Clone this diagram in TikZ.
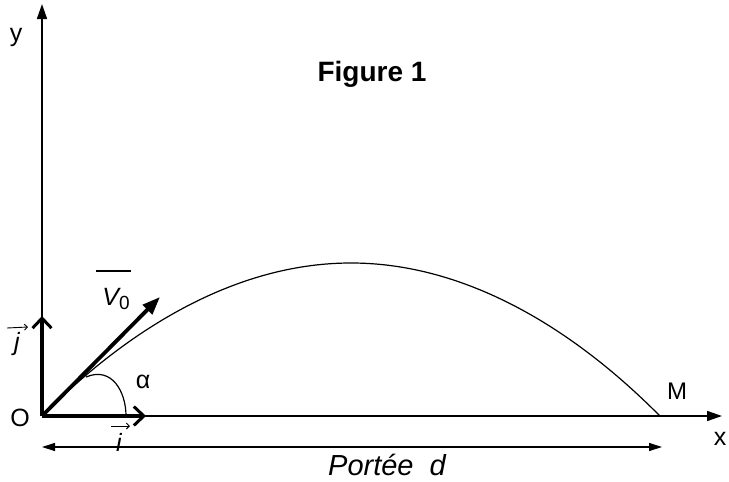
\documentclass[tikz,border=0pt]{standalone}
\usepackage{fontspec}
\setmainfont{Liberation Sans}
\usetikzlibrary{arrows.meta}
\begin{document}
\begin{tikzpicture}[x=1pt,y=-1pt,
  axis/.style={line width=1.6pt,-{Triangle[length=15pt,width=10pt]}},
  unitvec/.style={line width=3.8pt,-{Straight Barb[length=10pt,width=19pt,line width=3pt]}},
  velvec/.style={line width=3.8pt,-{Triangle[length=18pt,width=13pt]}},
  lbl/.style={font=\fontsize{25}{28}\selectfont},
  ilbl/.style={font=\itshape\fontsize{25}{28}\selectfont},
  smallarrow/.style={line width=0.9pt,-{Straight Barb[length=3pt,width=6pt]}},
  dim/.style={line width=1.2pt,{Triangle[length=13pt,width=8pt]}-{Triangle[length=13pt,width=8pt]}}]
\useasboundingbox (0,0) rectangle (729,482);
\coordinate (O) at (42,416);
\coordinate (Ytop) at (42,4);
\coordinate (Xend) at (722,416);
\coordinate (J) at (42,316);
\coordinate (I) at (146,416);
\coordinate (V) at (160,297);
\coordinate (M) at (660,416);
\coordinate (Top) at (351,263);
% axes
\draw[axis] (O) -- (Ytop);
\draw[axis] (O) -- (Xend);
% trajectory (parabola)
\draw[line width=1.2pt] (O) parabola bend (Top) (M);
% unit vectors
\draw[unitvec] (O) -- (J);
\draw[unitvec] (O) -- (I);
\draw[velvec] (O) -- (V);
% angle arc
\draw[line width=1.2pt] (86,377) .. controls (112,366) and (126,392) .. (126,416);
% range arrow
\coordinate (D1) at (42,447);
\coordinate (D2) at (662,447);
\draw[dim] (D1) -- (D2);
% labels
\node[font=\bfseries\fontsize{28}{32}\selectfont] (fig) at (372,74) {Figure 1};
\node[lbl] (ylab) at (16,37) {y};
\node[lbl] (xlab) at (720,439) {x};
\node[lbl] (olab) at (20,418) {O};
\node[font=\fontsize{24}{27}\selectfont] (mlab) at (677,391) {M};
\node[lbl] (alab) at (143,382) {α};
\node[ilbl] (vlab) at (116,299) {V\raisebox{-0.35ex}{\fontsize{19}{21}\selectfont\upshape 0}};
\draw[line width=1.2pt] (96,271) -- (131,271);
\node[ilbl] (jlab) at (17,344) {j};
\draw[smallarrow] (7,328) -- (28,327);
\node[ilbl] (ilab) at (119,442) {i};
\draw[smallarrow] (111,426) -- (130,426);
\node[font=\itshape\fontsize{29}{33}\selectfont] (port) at (387,465) {Portée\ \ d};
\end{tikzpicture}
\end{document}
